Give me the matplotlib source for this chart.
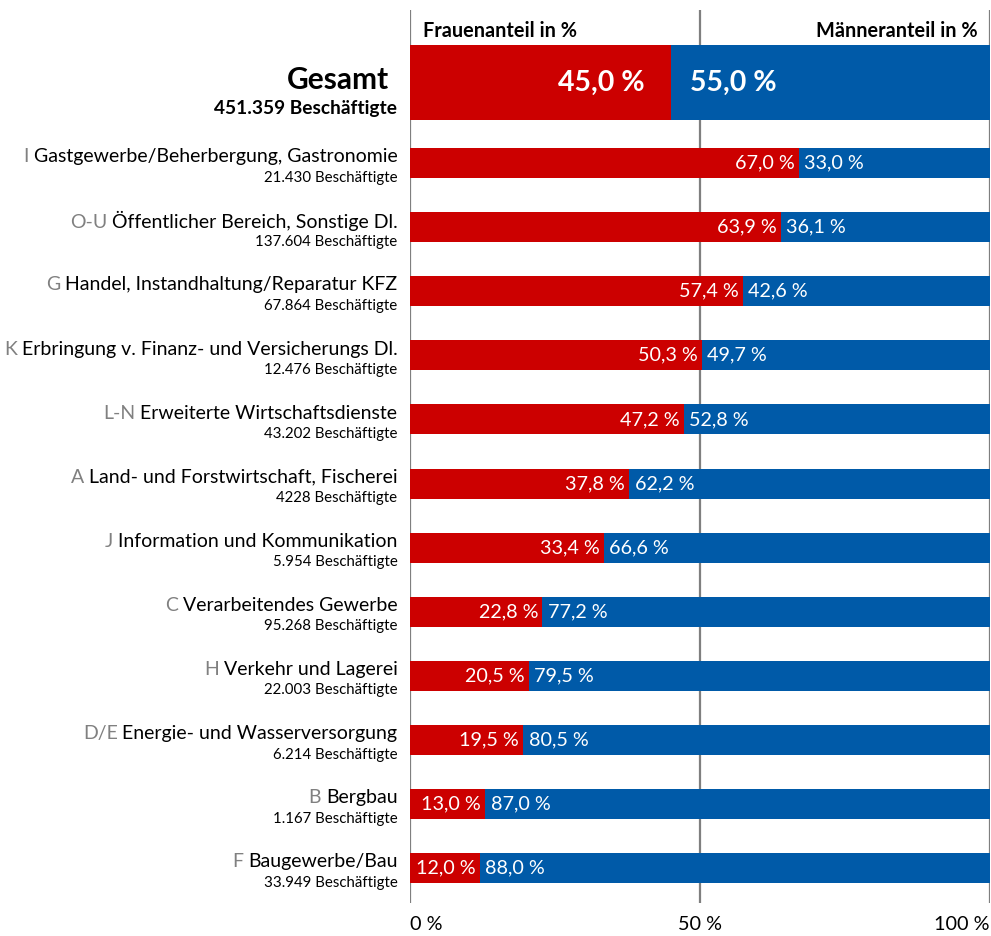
import matplotlib
matplotlib.use("Agg")
import matplotlib.pyplot as plt
import numpy as np

plt.rcParams['font.family'] = ['Lato', 'DejaVu Sans']

# Sector data
codes = ["I", "O-U", "G", "K", "L-N", "A", "J", "C", "H", "D/E", "B", "F"]
sectors = [
    "Gastgewerbe/Beherbergung, Gastronomie",
    "Öffentlicher Bereich, Sonstige Dl.",
    "Handel, Instandhaltung/Reparatur KFZ",
    "Erbringung v. Finanz- und Versicherungs Dl.",
    "Erweiterte Wirtschaftsdienste",
    "Land- und Forstwirtschaft, Fischerei",
    "Information und Kommunikation",
    "Verarbeitendes Gewerbe",
    "Verkehr und Lagerei",
    "Energie- und Wasserversorgung",
    "Bergbau",
    "Baugewerbe/Bau",
]
employees = ["21.430", "137.604", "67.864", "12.476", "43.202", "4228",
             "5.954", "95.268", "22.003", "6.214", "1.167", "33.949"]
women_pct = [67.0, 63.9, 57.4, 50.3, 47.2, 37.8, 33.4, 22.8, 20.5, 19.5, 13.0, 12.0]
men_pct = [33.0, 36.1, 42.6, 49.7, 52.8, 62.2, 66.6, 77.2, 79.5, 80.5, 87.0, 88.0]

total_women = 45.0
total_men = 55.0
total_employees = "451.359"

x_ticks = [0, 50, 100]
x_ticklabels = ["0 %", "50 %", "100 %"]

RED = "#cc0000"
BLUE = "#005aa8"
GREY = "#808080"

def fmt(v):
    return f"{v:.1f}".replace(".", ",") + " %"

fig = plt.figure(figsize=(9.91, 9.36), dpi=100)
ax = fig.add_axes([410 / 991, 1 - 903 / 936, 580 / 991, 893 / 936])

y = np.arange(len(sectors))
y_total = -1.256
bar_h = 0.468
total_h = 1.17

# gridlines
for t in x_ticks:
    ax.axvline(t, color="#7f7f7f", lw=1.6, zorder=0)

# total bar
ax.barh(y_total, total_women, height=total_h, color=RED, zorder=2)
ax.barh(y_total, total_men, left=total_women, height=total_h, color=BLUE, zorder=2)
ax.annotate(fmt(total_women), (total_women, y_total), xytext=(-19, 0),
            textcoords="offset points", ha="right", va="center",
            color="white", fontsize=20.5, fontweight="bold")
ax.annotate(fmt(total_men), (total_women, y_total), xytext=(14, 0),
            textcoords="offset points", ha="left", va="center",
            color="white", fontsize=20.5, fontweight="bold")

# sector bars
ax.barh(y, women_pct, height=bar_h, color=RED, zorder=2)
ax.barh(y, men_pct, left=women_pct, height=bar_h, color=BLUE, zorder=2)
for yi, w, m in zip(y, women_pct, men_pct):
    ax.annotate(fmt(w), (w, yi), xytext=(-3, 0), textcoords="offset points",
                ha="right", va="center", color="white", fontsize=14.2)
    ax.annotate(fmt(m), (w, yi), xytext=(4, 0), textcoords="offset points",
                ha="left", va="center", color="white", fontsize=14.2)

# category labels
for yi, code, name, emp in zip(y, codes, sectors, employees):
    t = ax.annotate(name, (0, yi), xycoords=("axes fraction", "data"),
                    xytext=(-9, 4.5), textcoords="offset points",
                    ha="right", va="center", fontsize=14.0, color="black")
    ax.annotate(code, (0, 0), xycoords=t, xytext=(-3.5, 0),
                textcoords="offset points", ha="right", va="bottom",
                fontsize=14.0, color=GREY)
    ax.annotate(f"{emp} Beschäftigte", (0, yi), xycoords=("axes fraction", "data"),
                xytext=(-9, -10.5), textcoords="offset points",
                ha="right", va="center", fontsize=10.8, color="black")

ax.annotate("Gesamt", (0, y_total), xycoords=("axes fraction", "data"),
            xytext=(-15, 1.8), textcoords="offset points",
            ha="right", va="center", fontsize=21.5, fontweight="bold")
ax.annotate(f"{total_employees} Beschäftigte", (0, y_total),
            xycoords=("axes fraction", "data"),
            xytext=(-9, -19), textcoords="offset points",
            ha="right", va="center", fontsize=13.8, fontweight="bold")

# header labels
ax.text(0.022, 0.988, "Frauenanteil in %", transform=ax.transAxes,
        ha="left", va="top", fontsize=14.3, fontweight="bold")
ax.text(0.978, 0.988, "Männeranteil in %", transform=ax.transAxes,
        ha="right", va="top", fontsize=14.3, fontweight="bold")

ax.set_xlim(0, 100)
ax.set_ylim(11.544, -2.387)
ax.set_xticks(x_ticks)
ax.set_xticklabels(x_ticklabels, fontsize=14.3)
tick_labels = ax.get_xticklabels()
tick_labels[0].set_horizontalalignment("left")
tick_labels[-1].set_horizontalalignment("right")
ax.tick_params(axis="x", length=0, pad=9)
ax.set_yticks([])
for s in ax.spines.values():
    s.set_visible(False)

fig.savefig("out.png", dpi=100)
